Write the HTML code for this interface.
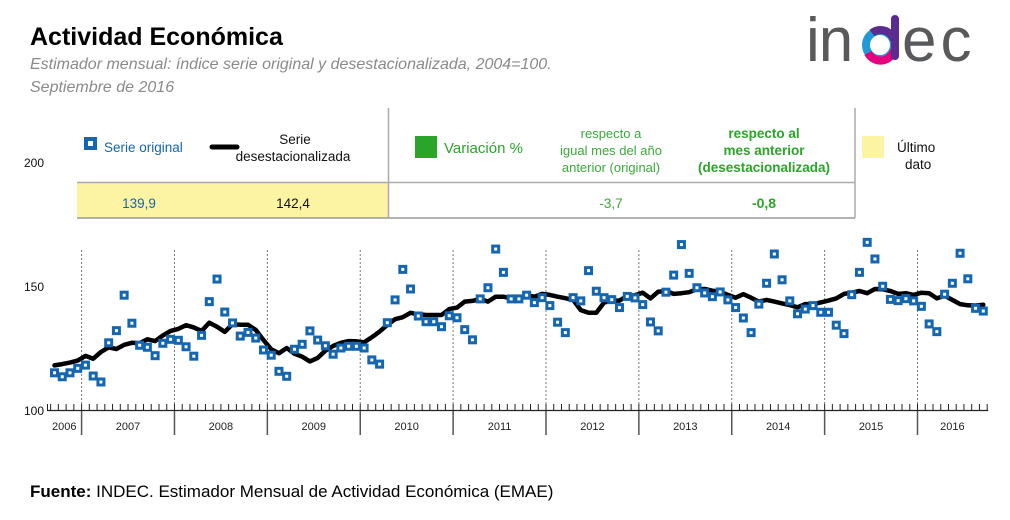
<!DOCTYPE html>
<html><head><meta charset="utf-8">
<style>
body{margin:0;background:#fff;}
svg{display:block;font-family:"Liberation Sans",Arial,sans-serif;}
</style></head>
<body>
<svg id="chart" width="1010" height="520" viewBox="0 0 1010 520">
  <text x="30" y="45" font-size="25" font-weight="bold" fill="#000">Actividad Económica</text>
  <text x="30" y="69" font-size="16" font-style="italic" fill="#8a8a8a">Estimador mensual: índice serie original y desestacionalizada, 2004=100.</text>
  <text x="30" y="92" font-size="16" font-style="italic" fill="#8a8a8a">Septiembre de 2016</text>

  <g>
    <text x="806" y="61" font-size="62" fill="#58595b" letter-spacing="-1">in</text>
    <circle cx="880" cy="45" r="14" fill="none" stroke="#1f9ad6" stroke-width="8"/>
    <path d="M868 53 A14 14 0 0 0 894 50" fill="none" stroke="#e6007e" stroke-width="8"/>
    <path d="M872 33 A14 14 0 0 1 894 40" fill="none" stroke="#5b2c8f" stroke-width="8"/>
    <rect x="891" y="15" width="8" height="45" rx="4" fill="#5b2c8f"/>
    <text x="902" y="61" font-size="62" fill="#58595b" letter-spacing="4">ec</text>
  </g>

  <g>
    <rect x="77" y="183" width="311" height="35" fill="#fcf3a3"/>
    <line x1="77" y1="182.5" x2="855" y2="182.5" stroke="#aaa" stroke-width="1.5"/>
    <line x1="77" y1="218" x2="855" y2="218" stroke="#999" stroke-width="1.5"/>
    <line x1="388.5" y1="108" x2="388.5" y2="218" stroke="#aaa" stroke-width="1.5"/>
    <line x1="855" y1="108" x2="855" y2="218" stroke="#aaa" stroke-width="1.5"/>
    <rect x="84" y="137" width="13" height="13" fill="#1466b0"/>
    <rect x="88" y="141" width="5" height="5" fill="#fff"/>
    <text x="104" y="152" font-size="13.5" fill="#1466b0">Serie original</text>
    <line x1="212" y1="147" x2="237" y2="147" stroke="#000" stroke-width="5" stroke-linecap="round"/>
    <text x="295" y="144" font-size="13.5" text-anchor="middle" fill="#111">Serie</text>
    <text x="293" y="161" font-size="13.5" text-anchor="middle" fill="#111">desestacionalizada</text>
    <rect x="415" y="136" width="22" height="22" fill="#2aa52a"/>
    <text x="444" y="153" font-size="15" fill="#2aa52a">Variación %</text>
    <g font-size="13" fill="#3aaa3a" text-anchor="middle">
      <text x="611" y="138">respecto a</text>
      <text x="611" y="155">igual mes del año</text>
      <text x="611" y="172">anterior (original)</text>
    </g>
    <g font-size="13.5" fill="#2aa52a" font-weight="bold" text-anchor="middle">
      <text x="764" y="138">respecto al</text>
      <text x="764" y="155">mes anterior</text>
      <text x="764" y="172">(desestacionalizada)</text>
    </g>
    <rect x="862" y="136" width="22" height="22" fill="#fcf3a3"/>
    <text x="897" y="152" font-size="13.5" fill="#111">Último</text>
    <text x="905" y="169" font-size="13.5" fill="#111">dato</text>
    <text x="139" y="208" font-size="13.5" fill="#1466b0" text-anchor="middle">139,9</text>
    <text x="293" y="208" font-size="13.5" fill="#111" text-anchor="middle">142,4</text>
    <text x="611" y="208" font-size="13.5" fill="#3aaa3a" text-anchor="middle">-3,7</text>
    <text x="764" y="208" font-size="14" fill="#2aa52a" font-weight="bold" text-anchor="middle">-0,8</text>
  </g>

  <g id="plot"></g>

  <text x="30" y="497" font-size="17" fill="#000"><tspan font-weight="bold">Fuente:</tspan> INDEC. Estimador Mensual de Actividad Económica (EMAE)</text>
</svg>
<script>
const years = ["2006","2007","2008","2009","2010","2011","2012","2013","2014","2015","2016"];
const yTicks = [100,150,200];
// Sep 2006 .. Sep 2016
const serieOriginal = [
115.0,113.4,115.0,116.8,
118.1,113.7,111.3,127.1,132.0,146.3,135.0,126.1,125.3,121.9,126.9,128.5,
128.1,125.5,121.7,130.1,143.7,152.8,139.5,135.1,129.8,131.3,129.0,124.2,
122.1,115.6,113.6,124.5,126.5,131.9,128.2,125.9,122.5,125.0,125.7,125.7,
125.0,120.2,118.5,135.2,144.4,156.7,148.8,137.9,135.6,135.6,133.6,138.0,
137.2,132.4,128.3,144.8,149.3,164.9,155.5,144.8,144.8,146.3,143.3,145.3,
142.1,135.4,131.2,145.3,144.0,156.2,147.9,145.3,144.5,141.3,145.8,145.2,
142.5,135.5,131.9,147.5,154.4,166.7,155.1,149.3,147.2,145.7,147.6,144.4,
141.3,137.1,131.2,142.7,151.1,162.9,152.5,144.0,138.8,140.7,142.1,139.4,
139.4,134.2,130.8,146.5,155.5,167.6,160.9,149.9,144.6,144.1,144.9,144.0,
141.8,134.7,131.6,146.7,151.1,163.2,152.9,141.0,139.9];
const serieDesest = [
118.0,118.5,119.1,119.9,
121.8,120.7,123.4,125.3,124.6,126.3,127.1,126.9,128.5,127.8,130.1,131.9,
132.7,134.2,133.3,131.9,135.2,133.6,131.5,134.6,134.4,134.4,132.3,128.2,
124.5,122.9,125.0,122.7,121.5,119.6,121.0,123.9,125.8,127.1,127.8,127.7,
127.3,129.3,131.6,134.3,136.6,137.4,139.2,138.6,138.3,138.3,138.3,140.7,
141.3,143.7,144.0,144.8,143.7,145.7,145.7,145.0,145.1,146.3,145.7,146.8,
146.4,145.7,145.1,144.4,140.3,139.2,139.2,143.3,144.1,144.1,146.0,146.3,
147.3,145.0,147.7,148.0,146.8,147.1,147.5,148.7,148.8,148.1,147.7,146.4,
145.3,146.7,145.3,143.7,144.4,143.7,143.0,142.3,141.4,142.7,142.7,143.4,
144.1,145.0,146.8,147.3,148.0,147.1,148.8,148.7,148.0,146.8,147.1,146.4,
147.3,147.1,145.0,146.1,144.4,142.7,142.2,142.1,142.4];

const NS="http://www.w3.org/2000/svg";
const plot=document.getElementById('plot');
const X0=54.5, DX=7.74;
const xm = i => X0 + DX*i;
const ys = v => 410 - (v-100)*2.48;
function mk(tag, attrs, parent){const e=document.createElementNS(NS,tag);for(const k in attrs)e.setAttribute(k,attrs[k]);(parent||plot).appendChild(e);return e;}

yTicks.forEach(v=>{
  const t=mk('text',{x:44,y:ys(v)+5,'font-size':12,'text-anchor':'end',fill:'#111'});
  
  
  t.textContent=v;
});
const n=serieOriginal.length;
const xEnd=xm(n-0.5)+1;
const ax=mk('line',{x1:47,y1:410.5,x2:xEnd,y2:410.5,stroke:'#222','stroke-width':1.2});


for(let i=-0.5;i<=n-0.5;i+=1){
  mk('line',{x1:xm(i),y1:404,x2:xm(i),y2:410,stroke:'#222','stroke-width':1});
}
mk('line',{x1:47.5,y1:404,x2:47.5,y2:410,stroke:'#222','stroke-width':1});
years.forEach((y,k)=>{
  const startIdx = k===0 ? -0.5 : 4+12*(k-1)-0.5;
  const endIdx = Math.min(4+12*k-0.5, n-0.5);
  const xs = k===0?47:xm(startIdx);
  if(k>0){
    mk('line',{x1:xm(startIdx),y1:250,x2:xm(startIdx),y2:404,stroke:'#777','stroke-width':1,'stroke-dasharray':'2,2'});
    mk('line',{x1:xm(startIdx),y1:411,x2:xm(startIdx),y2:435,stroke:'#555','stroke-width':1.5});
  }
  const t=mk('text',{x:(xs+xm(endIdx))/2,y:430,'font-size':11,'text-anchor':'middle',fill:'#222'});
  
  
  t.textContent=y;
});
const pts=serieDesest.map((v,i)=>xm(i).toFixed(1)+','+ys(v).toFixed(1)).join(' ');
const pl=mk('polyline',{points:pts,fill:'none',stroke:'#000','stroke-width':4.5,'stroke-linejoin':'round','stroke-linecap':'round'});


serieOriginal.forEach((v,i)=>{
  const r=mk('rect',{x:xm(i)-4.5,y:ys(v)-4.5,width:9,height:9,fill:'#1466b0'});
  
  
  mk('rect',{x:xm(i)-1.5,y:ys(v)-1.5,width:3,height:3,fill:'#fff'});
});
</script>
</body></html>
